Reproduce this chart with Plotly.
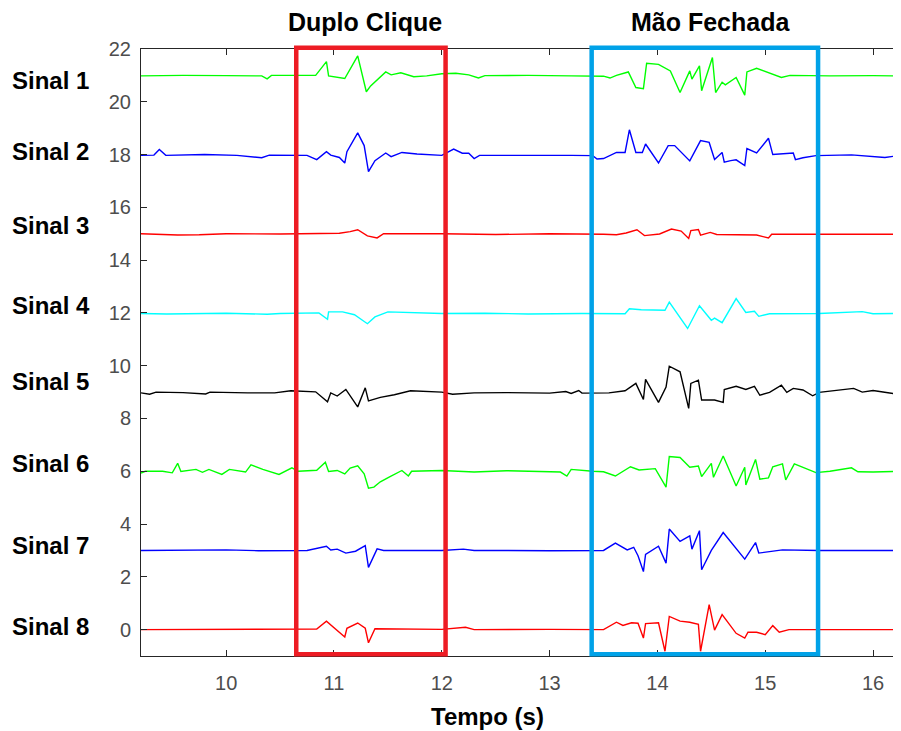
import plotly.graph_objects as go

# x/y ranges of the axes
x_range = [9.21, 16.25]
y_range = [-1, 22]
y_ticks = list(range(0, 23, 2))
x_ticks = list(range(10, 17))

signal_names = ["Sinal 1", "Sinal 2", "Sinal 3", "Sinal 4", "Sinal 5", "Sinal 6", "Sinal 7", "Sinal 8"]
signal_colors = ["#00FF00", "#0000FF", "#FF0000", "#00FFFF", "#000000", "#00FF00", "#0000FF", "#FF0000"]

sig1 = [(9.21,20.98),(9.6,21.0),(10.0,20.99),(10.33,20.98),(10.38,20.87),(10.42,21.0),(10.83,21.0),(10.93,21.52),
        (10.95,20.98),(11.10,20.88),(11.22,21.74),(11.30,20.38),(11.34,20.6),(11.48,21.13),(11.53,21.02),(11.62,21.1),
        (11.74,20.95),(11.86,20.98),(12.0,21.06),(12.13,21.08),(12.25,21.02),(12.34,20.9),(12.40,20.99),(12.8,21.0),
        (13.2,20.98),(13.50,20.97),(13.56,20.9),(13.62,21.0),(13.73,21.13),(13.80,20.54),(13.87,20.5),(13.90,21.46),
        (14.01,21.42),(14.12,21.17),(14.21,20.35),(14.30,21.17),(14.32,20.86),(14.39,21.36),(14.41,20.42),(14.51,21.68),
        (14.54,20.35),(14.60,20.74),(14.63,20.64),(14.73,20.92),(14.81,20.25),(14.83,21.13),(14.92,21.27),(15.04,21.1),
        (15.15,20.92),(15.23,21.0),(15.6,20.98),(16.0,20.99),(16.25,20.98)]
sig2 = [(9.21,17.97),(9.33,17.98),(9.38,18.19),(9.44,17.97),(9.8,18.0),(10.1,17.97),(10.33,17.88),(10.4,17.98),
        (10.75,17.97),(10.84,17.81),(10.93,18.11),(10.97,17.98),(11.05,17.89),(11.10,17.68),(11.12,18.11),(11.22,18.82),
        (11.28,18.34),(11.32,17.35),(11.38,17.77),(11.48,18.06),(11.53,17.92),(11.63,18.08),(11.77,18.02),(12.0,17.97),
        (12.11,18.21),(12.19,18.05),(12.25,18.05),(12.30,17.85),(12.35,17.97),(12.8,17.98),(13.2,17.97),(13.40,17.96),
        (13.44,17.83),(13.50,17.85),(13.62,18.08),(13.70,18.08),(13.74,18.94),(13.80,18.08),(13.86,18.08),(13.89,18.4),
        (14.01,17.68),(14.10,18.34),(14.16,18.34),(14.30,17.76),(14.40,18.53),(14.48,18.46),(14.53,17.81),(14.60,18.08),
        (14.62,17.71),(14.68,17.77),(14.73,17.8),(14.81,17.58),(14.83,18.23),(14.92,18.06),(15.03,18.62),(15.07,18.0),
        (15.26,18.06),(15.28,17.81),(15.35,17.88),(15.47,17.96),(15.8,17.99),(16.11,17.89),(16.25,17.97)]
sig3 = [(9.21,15.0),(9.55,14.95),(9.75,14.96),(10.0,15.0),(10.5,14.99),(11.05,15.02),(11.15,15.08),(11.22,15.15),
        (11.31,14.92),(11.40,14.84),(11.46,15.0),(12.0,15.0),(12.5,14.97),(13.0,15.0),(13.5,14.98),(13.62,14.96),
        (13.71,15.03),(13.81,15.15),(13.88,14.93),(14.02,14.99),(14.13,15.18),(14.22,15.1),(14.29,14.82),(14.31,15.12),
        (14.38,15.16),(14.40,14.95),(14.49,15.05),(14.55,14.97),(14.92,14.95),(15.03,14.84),(15.06,14.98),(15.5,14.98),
        (16.0,15.0),(16.25,14.98)]
sig4 = [(9.21,11.98),(9.45,11.96),(10.0,11.99),(10.38,11.95),(10.5,11.98),(10.86,12.0),(10.94,11.76),(10.95,12.04),
        (11.08,12.04),(11.19,11.93),(11.31,11.59),(11.38,11.85),(11.5,12.04),(12.0,11.98),(12.4,11.99),(12.8,11.96),
        (13.3,11.98),(13.70,11.97),(13.74,12.16),(13.85,12.12),(14.07,12.1),(14.11,12.41),(14.28,11.41),(14.39,12.27),
        (14.50,11.72),(14.53,11.8),(14.60,11.63),(14.73,12.54),(14.82,12.02),(14.90,12.06),(14.94,11.87),(15.04,11.97),
        (15.5,11.98),(15.9,12.05),(16.0,11.97),(16.25,11.98)]
sig5 = [(9.21,8.97),(9.29,8.92),(9.35,9.0),(9.6,8.98),(9.81,8.93),(9.85,9.0),(10.2,8.97),(10.45,8.97),(10.6,9.05),
        (10.83,9.01),(10.94,8.63),(10.97,8.97),(11.03,8.85),(11.11,9.10),(11.22,8.44),(11.29,9.16),(11.32,8.67),
        (11.43,8.8),(11.56,8.9),(11.71,9.05),(12.0,9.0),(12.1,8.92),(12.3,8.97),(12.6,8.98),(13.0,8.96),(13.15,9.02),
        (13.2,8.95),(13.27,9.06),(13.3,8.96),(13.55,8.97),(13.70,9.05),(13.80,9.33),(13.87,8.72),(13.89,9.48),
        (14.01,8.61),(14.08,9.19),(14.11,9.98),(14.21,9.77),(14.29,8.38),(14.31,9.33),(14.38,9.45),(14.41,8.7),
        (14.53,8.7),(14.61,8.61),(14.62,9.1),(14.73,9.22),(14.82,9.1),(14.90,9.22),(14.95,8.88),(15.04,8.99),
        (15.15,9.26),(15.20,8.99),(15.26,9.14),(15.35,9.08),(15.44,8.86),(15.5,8.99),(15.82,9.14),(15.9,9.0),
        (16.0,9.06),(16.2,8.94),(16.25,8.97)]
sig6 = [(9.21,5.93),(9.25,6.0),(9.41,6.0),(9.50,5.94),(9.55,6.3),(9.58,5.99),(9.72,6.07),(9.78,5.96),(9.84,6.07),
        (9.96,5.88),(10.03,6.07),(10.18,5.97),(10.23,6.24),(10.34,6.07),(10.49,5.88),(10.61,6.13),(10.67,6.0),
        (10.84,6.04),(10.92,6.34),(10.95,5.99),(11.03,6.03),(11.10,5.9),(11.15,6.12),(11.22,6.21),(11.28,5.9),
        (11.32,5.36),(11.37,5.4),(11.43,5.6),(11.52,5.8),(11.63,6.03),(11.69,5.82),(11.72,6.0),(12.0,6.03),(12.3,5.97),
        (12.6,6.02),(13.0,5.99),(13.1,5.97),(13.16,5.82),(13.2,6.07),(13.4,6.0),(13.5,5.98),(13.61,5.82),(13.75,6.17),
        (13.83,6.05),(13.98,6.1),(14.08,5.4),(14.11,6.56),(14.21,6.52),(14.30,6.15),(14.38,6.2),(14.41,5.8),(14.50,6.3),
        (14.52,5.77),(14.61,6.58),(14.73,5.44),(14.81,6.15),(14.82,5.48),(14.91,6.45),(14.95,5.7),(15.03,5.75),
        (15.07,6.17),(15.16,6.28),(15.19,5.67),(15.27,6.28),(15.35,6.15),(15.47,5.95),(15.6,6.0),(15.80,6.13),
        (15.86,5.98),(16.0,5.97),(16.25,6.0)]
sig7 = [(9.21,3.0),(9.6,3.0),(10.0,3.02),(10.3,2.99),(10.75,3.0),(10.93,3.16),(10.97,3.02),(11.03,3.05),(11.11,2.9),
        (11.20,2.97),(11.29,3.18),(11.32,2.36),(11.40,3.06),(11.46,3.0),(12.0,3.0),(12.2,3.05),(12.3,3.0),(13.0,2.99),
        (13.5,3.0),(13.61,3.28),(13.72,3.02),(13.78,3.12),(13.82,2.8),(13.87,2.2),(13.89,2.85),(14.01,3.16),(14.08,2.52),
        (14.11,3.81),(14.21,3.34),(14.30,3.55),(14.32,3.05),(14.39,3.75),(14.41,2.27),(14.50,3.0),(14.61,3.68),
        (14.81,2.67),(14.91,3.3),(14.94,2.9),(15.16,3.02),(15.5,3.0),(16.0,2.99),(16.25,3.0)]
sig8 = [(9.21,0.0),(9.8,0.01),(10.4,0.0),(10.84,0.02),(10.93,0.32),(11.10,-0.28),(11.12,0.05),(11.22,0.25),(11.29,0.05),
        (11.32,-0.5),(11.38,0.03),(11.8,0.0),(12.0,0.01),(12.22,0.09),(12.3,0.0),(13.0,0.01),(13.5,0.0),(13.62,0.28),
        (13.68,0.16),(13.76,0.26),(13.82,0.24),(13.87,-0.32),(13.89,0.23),(14.01,0.26),(14.07,-0.82),(14.11,0.5),
        (14.21,0.32),(14.30,0.28),(14.38,0.2),(14.40,-0.82),(14.48,0.95),(14.53,-0.02),(14.60,0.57),(14.73,-0.14),
        (14.81,-0.32),(14.84,-0.1),(14.92,-0.1),(15.0,-0.19),(15.07,0.15),(15.13,-0.1),(15.22,0.0),(15.5,0.0),
        (16.0,0.01),(16.25,0.0)]

signals = [sig1, sig2, sig3, sig4, sig5, sig6, sig7, sig8]
label_y = [20.8, 18.1, 15.3, 12.3, 9.4, 6.3, 3.2, 0.1]

# highlighted windows (time spans)
events = [("Duplo Clique", 10.65, 12.035, "#ED1C24"), ("Mão Fechada", 13.39, 15.49, "#00A2E8")]

fig = go.Figure()
for name, col, s in zip(signal_names, signal_colors, signals):
    fig.add_trace(go.Scatter(x=[p[0] for p in s], y=[p[1] for p in s], mode="lines",
                             line=dict(color=col, width=1.4), name=name, showlegend=False))

def xpaper(t):
    return (t - x_range[0]) / (x_range[1] - x_range[0])

def ypaper(v):
    return (v - y_range[0]) / (y_range[1] - y_range[0])

title_x = [0.2952, 0.7497]
for (txt, a, b, col), tx in zip(events, title_x):
    fig.add_shape(type="rect", xref="paper", yref="paper", x0=xpaper(a), x1=xpaper(b),
                  y0=ypaper(-0.93), y1=ypaper(22.05), line=dict(color=col, width=4.5), layer="above")
    fig.add_annotation(text="<b>%s</b>" % txt, xref="paper", yref="paper", x=tx, y=1.045,
                       showarrow=False, font=dict(size=25, color="black", family="Liberation Sans"),
                       xanchor="center", yanchor="middle")

for name, ly in zip(signal_names, label_y):
    fig.add_annotation(text="<b>%s</b>" % name, xref="paper", yref="y", x=-0.1186, y=ly,
                       showarrow=False, font=dict(size=24, color="black", family="Liberation Sans"),
                       xanchor="center", yanchor="middle")

fig.add_annotation(text="<b>Tempo (s)</b>", xref="paper", yref="paper", x=0.4559, y=-0.099,
                   showarrow=False, font=dict(size=24, color="black", family="Liberation Sans"),
                   xanchor="center", yanchor="middle")

axis_common = dict(showline=True, mirror="ticks", linecolor="#262626", linewidth=1, ticks="inside",
                   ticklen=6, tickcolor="#262626", showgrid=False, zeroline=False,
                   tickfont=dict(size=20, color="#4D4D4D", family="Liberation Sans"))
fig.update_xaxes(range=x_range, tickvals=x_ticks, ticklabelstandoff=9, **axis_common)
fig.update_yaxes(range=y_range, tickvals=y_ticks, ticklabelstandoff=5, **axis_common)

# the page places the figure 8px from the top-left corner; margins compensate for that
fig.update_layout(width=901, height=731, margin=dict(l=133, r=9, t=41, b=83),
                  plot_bgcolor="white", paper_bgcolor="white")

fig.write_html("out.html")
